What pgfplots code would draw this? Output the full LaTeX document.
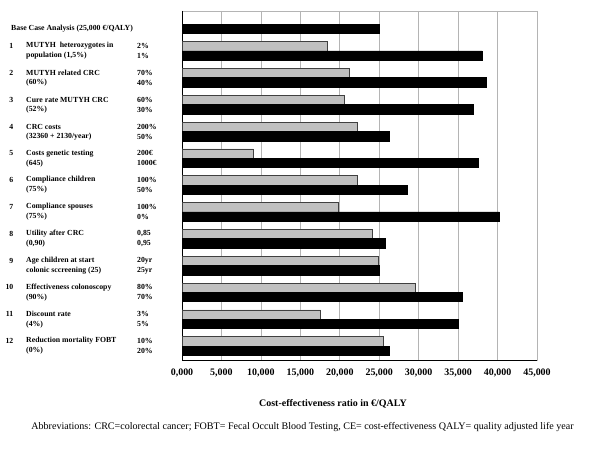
\documentclass[border=0pt]{standalone}
\usepackage{pgfplots}
\pgfplotsset{compat=1.18}
\usepackage{fontspec}
\setmainfont{Liberation Serif}
\definecolor{barg}{HTML}{C0C0C0}
\definecolor{gridg}{HTML}{B4B4B4}
\newcommand{\lf}{\bfseries\fontsize{7.8}{10}\selectfont}
\begin{document}
\begin{tikzpicture}[x=1bp,y=1bp]
\useasboundingbox (0,0) rectangle (600,450);
\begin{axis}[
  at={(182bp,90bp)}, anchor=south west,
  width=355bp, height=349bp, scale only axis,
  y dir=reverse,
  xmin=0, xmax=45000, ymin=-0.49, ymax=12.52,
  scaled x ticks=false,
  xtick={0,5000,10000,15000,20000,25000,30000,35000,40000,45000},
  xticklabels={{0,000},{5,000},{10,000},{15,000},{20,000},{25,000},{30,000},{35,000},{40,000},{45,000}},
  xticklabel style={font=\bfseries\fontsize{10}{12}\selectfont, yshift=-5bp},
  ytick=\empty,
  major tick length=0pt,
  xmajorgrids, grid style={gridg, line width=0.7pt},
  axis line style={gridg, line width=0.9pt},
  extra x ticks={0}, extra x tick labels={},
  extra x tick style={grid style={black, line width=0.9pt}},
  extra y ticks={12.52}, extra y tick labels={},
  extra y tick style={ymajorgrids, grid style={black, line width=0.9pt}},
  clip=false,
]
\addplot[xbar, bar width=9.4bp, bar shift=0pt, fill=barg, draw=black!75, line width=0.6pt]
 coordinates {
 (18420,0.825) (21250,1.825) (20580,2.825) (22270,3.825) (9040,4.825) (22180,5.825)
 (19860,6.825) (24170,7.825) (24930,8.825) (29580,9.825) (17580,10.825) (25560,11.825)
 };
\addplot[xbar, bar width=9.4bp, bar shift=0pt, fill=black, draw=black, line width=0.6pt]
 coordinates {
 (25000,0.175) (38030,1.175) (38580,2.175) (36890,3.175) (26320,4.175) (37560,5.175) (28520,6.175)
 (40220,7.175) (25770,8.175) (24970,9.175) (35580,10.175) (34990,11.175) (26320,12.175)
 };
\end{axis}
% left labels
\node[anchor=west, font=\lf, inner sep=0] at (11,450-29) {Base Case Analysis (25,000 €/QALY)};
\foreach \i/\n/\a/\b/\va/\vb in {
 1/1/{MUTYH\ \ heterozygotes in}/{population (1,5\%)}/{2\%}/{1\%},
 2/2/{MUTYH related CRC}/{(60\%)}/{70\%}/{40\%},
 3/3/{Cure rate MUTYH CRC}/{(52\%)}/{60\%}/{30\%},
 4/4/{CRC costs}/{(32360 + 2130/year)}/{200\%}/{50\%},
 5/5/{Costs genetic testing}/{(645)}/{200€}/{1000€},
 6/6/{Compliance children}/{(75\%)}/{100\%}/{50\%},
 7/7/{Compliance spouses}/{(75\%)}/{100\%}/{0\%},
 8/8/{Utility after CRC}/{(0,90)}/{0,85}/{0,95},
 9/9/{Age children at start}/{colonic sccreening (25)}/{20yr}/{25yr},
 10/10/{Effectiveness colonoscopy}/{(90\%)}/{80\%}/{70\%},
 11/11/{Discount rate}/{(4\%)}/{3\%}/{5\%},
 12/12/{Reduction mortality FOBT}/{(0\%)}/{10\%}/{20\%}}{
 \pgfmathsetmacro{\yb}{450-(24.2+26.82*\i)}
 \node[anchor=east, font=\lf, inner sep=0] at (13.5,\yb+5) {\n};
 \node[anchor=west, font=\lf, inner sep=0] at (26,\yb+5) {\a};
 \node[anchor=west, font=\lf, inner sep=0] at (26,\yb-5) {\b};
 \node[anchor=west, font=\lf, inner sep=0] at (137,\yb+5) {\va};
 \node[anchor=west, font=\lf, inner sep=0] at (137,\yb-5) {\vb};
}
\node[font=\bfseries\fontsize{10}{12}\selectfont, inner sep=0] at (333,46) {Cost-effectiveness ratio in €/QALY};
\node[font=\fontsize{10.1}{12}\selectfont, inner sep=0] at (302.5,23) {Abbreviations: CRC=colorectal cancer; FOBT= Fecal Occult Blood Testing, CE= cost-effectiveness QALY= quality adjusted life year};
\end{tikzpicture}
\end{document}
